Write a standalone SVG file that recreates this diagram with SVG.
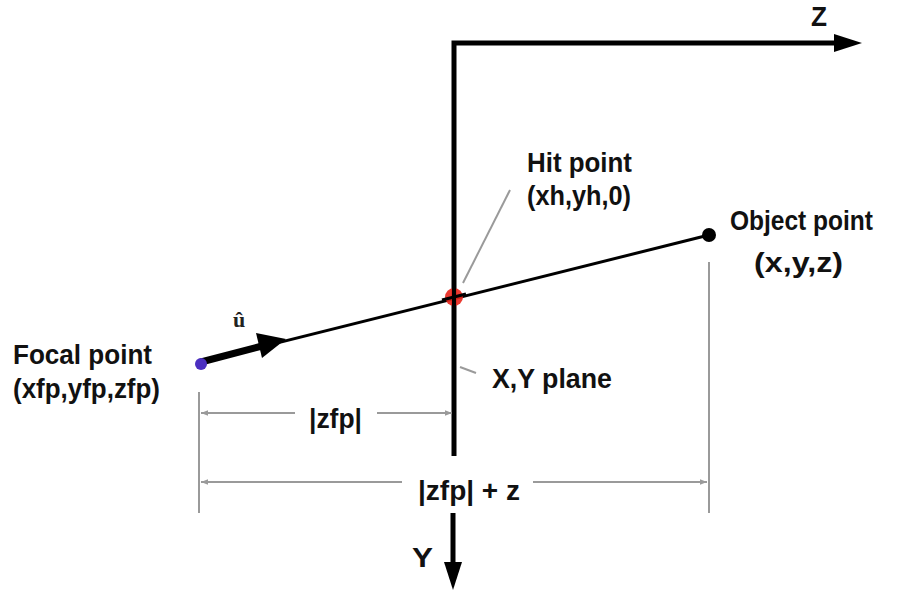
<svg xmlns="http://www.w3.org/2000/svg" width="905" height="594" viewBox="0 0 905 594">
<defs>
<style>
.lbl{font-family:"Liberation Sans",Arial,sans-serif;font-weight:bold;font-size:28px;fill:#111}
.axis{stroke:#000;stroke-width:5;fill:none}
.gray{stroke:#9a9a9a;stroke-width:2;fill:none}
.ray{stroke:#000;stroke-width:3;fill:none}
</style>
<marker id="gh" viewBox="0 0 10 10" refX="10" refY="5" markerWidth="7" markerHeight="3.5" orient="auto" markerUnits="strokeWidth">
<path d="M0,1 L10,5 L0,9 Z" fill="#9a9a9a"/>
</marker>
</defs>
<rect width="905" height="594" fill="#fff"/>
<g id="connectors">
<path class="axis" d="M454,456 L454,43 L836,43"/>
<path d="M834,34 L862,43 L834,52 Z" fill="#000"/>
<path class="axis" d="M453,513 L453,566"/>
<path d="M444,562 L453,590 L462,562 Z" fill="#000"/>
<line class="ray" x1="201" y1="362" x2="709" y2="235"/>
<line x1="201" y1="362" x2="262" y2="346" stroke="#000" stroke-width="7" stroke-linecap="round"/>
<path d="M256,333 L286,339 L262,358 Z" fill="#000"/>
<line class="gray" x1="463" y1="283" x2="510" y2="190"/>
<line class="gray" x1="460" y1="367" x2="476" y2="373"/>
<line class="gray" x1="199" y1="392" x2="199" y2="513"/>
<line class="gray" x1="709" y1="262" x2="709" y2="513"/>
<line class="gray" x1="295" y1="413" x2="201" y2="413" marker-end="url(#gh)"/>
<line class="gray" x1="377" y1="413" x2="452" y2="413" marker-end="url(#gh)"/>
<line class="gray" x1="402" y1="482" x2="201" y2="482" marker-end="url(#gh)"/>
<line class="gray" x1="533" y1="482" x2="707" y2="482" marker-end="url(#gh)"/>
</g>
<g id="focal-point">
<circle cx="201" cy="364" r="6" fill="#4b2fc0"/>
<text class="lbl" x="13" y="364" textLength="139" lengthAdjust="spacingAndGlyphs">Focal point</text>
<text class="lbl" x="13" y="398" textLength="147" lengthAdjust="spacingAndGlyphs">(xfp,yfp,zfp)</text>
</g>
<g id="u-hat">
<text x="233" y="327" font-family="'Liberation Serif',serif" font-weight="bold" font-size="22" fill="#222">û</text>
</g>
<g id="hit-point">
<circle cx="454" cy="297" r="9" fill="#e8261c" opacity="0.9"/>
<line x1="454" y1="286" x2="454" y2="308" stroke="#000" stroke-width="4"/>
<line x1="442" y1="300" x2="466" y2="294" stroke="#000" stroke-width="3"/>
<text class="lbl" x="527" y="172" textLength="105" lengthAdjust="spacingAndGlyphs">Hit point</text>
<text class="lbl" x="527" y="205" textLength="104" lengthAdjust="spacingAndGlyphs">(xh,yh,0)</text>
</g>
<g id="object-point">
<circle cx="709" cy="235" r="7" fill="#000"/>
<text class="lbl" x="730" y="230" textLength="143" lengthAdjust="spacingAndGlyphs">Object point</text>
<text class="lbl" x="754" y="272" textLength="89" lengthAdjust="spacingAndGlyphs">(x,y,z)</text>
</g>
<g id="xy-plane">
<text class="lbl" x="492" y="388" textLength="120" lengthAdjust="spacingAndGlyphs">X,Y plane</text>
</g>
<g id="axis-labels">
<text class="lbl" x="811" y="26" textLength="16" lengthAdjust="spacingAndGlyphs">Z</text>
<text class="lbl" x="412" y="567" textLength="21" lengthAdjust="spacingAndGlyphs">Y</text>
</g>
<g id="dimensions">
<text class="lbl" x="309" y="428" textLength="53" lengthAdjust="spacingAndGlyphs">|zfp|</text>
<text class="lbl" x="418" y="500" textLength="102" lengthAdjust="spacingAndGlyphs">|zfp| + z</text>
</g>
</svg>
